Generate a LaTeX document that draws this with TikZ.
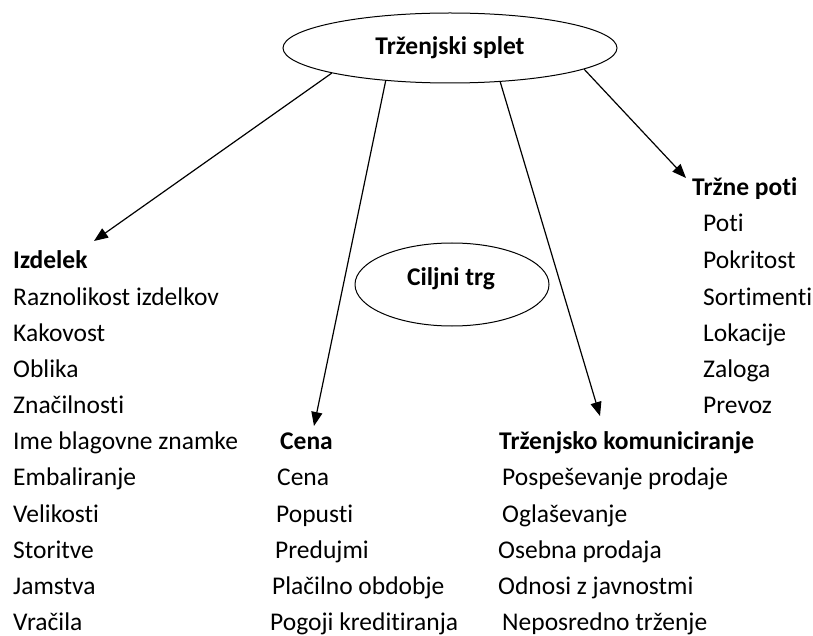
\documentclass[tikz,border=0pt]{standalone}
\usepackage{fontspec}
\setmainfont{Carlito}[Ligatures=NoCommon]
\usetikzlibrary{arrows.meta,shapes.geometric}
\begin{document}
\begin{tikzpicture}[x=1pt,y=-1pt,
  every node/.style={font=\fontsize{25.5}{30}\selectfont, inner sep=0pt},
  item/.style={anchor=base west},
  head/.style={anchor=base west, font=\fontsize{25.5}{30}\selectfont\bfseries},
  oval/.style={draw, ellipse, line width=1pt, inner sep=0pt},
  arr/.style={line width=1.2pt, -{Triangle[length=14pt,width=11pt]}}
]
\useasboundingbox (0,0) rectangle (813,636);
% ellipses
\node[oval, minimum width=334pt, minimum height=70pt, font=\fontsize{25.5}{30}\selectfont\bfseries] (ts) at (450,48) {Trženjski splet};
\node[oval, minimum width=194pt, minimum height=83pt] (ct) at (452,284.5) {};
\node[font=\fontsize{25.5}{30}\selectfont\bfseries] (ctt) at (451,279) {Ciljni trg};
% Izdelek column
\node[head] (izd) at (13,269) {Izdelek};
\node[item] (i1) at (13,305) {Raznolikost izdelkov};
\node[item] (i2) at (13,341) {Kakovost};
\node[item] (i3) at (13,377.2) {Oblika};
\node[item] (i4) at (13,413.4) {Značilnosti};
\node[item] (i5) at (13,449.6) {Ime blagovne znamke};
\node[item] (i6) at (13,485.8) {Embaliranje};
\node[item] (i7) at (13,522) {Velikosti};
\node[item] (i8) at (13,558.2) {Storitve};
\node[item] (i9) at (13,594.4) {Jamstva};
\node[item] (i10) at (13,630.4) {Vračila};
% Cena column
\node[head] (cena) at (280,449.6) {Cena};
\node[item] (c1) at (277,485.8) {Cena};
\node[item] (c2) at (276,522) {Popusti};
\node[item] (c3) at (275,558.2) {Predujmi};
\node[item] (c4) at (272,594.4) {Plačilno obdobje};
\node[item] (c5) at (270,630.4) {Pogoji kreditiranja};
% Trzenjsko komuniciranje column
\node[head] (tk) at (499,449.6) {Trženjsko komuniciranje};
\node[item] (k1) at (502,485.8) {Pospeševanje prodaje};
\node[item] (k2) at (502,522) {Oglaševanje};
\node[item] (k3) at (498,558.2) {Osebna prodaja};
\node[item] (k4) at (498,594.4) {Odnosi z javnostmi};
\node[item] (k5) at (502,630.4) {Neposredno trženje};
% Trzne poti column
\node[head] (tp) at (692,195.5) {Tržne poti};
\node[item] (p1) at (703,232) {Poti};
\node[item] (p2) at (703,268.5) {Pokritost};
\node[item] (p3) at (703,305) {Sortimenti};
\node[item] (p4) at (703,341) {Lokacije};
\node[item] (p5) at (703,377.2) {Zaloga};
\node[item] (p6) at (703,413.4) {Prevoz};
% arrow tips
\coordinate (tizd) at (94,241);
\coordinate (tcena) at (314,426);
\coordinate (ttk) at (600,416);
\coordinate (ttp) at (686,178);
\draw[arr] (ts.192.5) -- (tizd);
\draw[arr] (ts.207.7) -- (tcena);
\draw[arr] (ts.326.9) -- (ttk);
\draw[arr] (ts.351.1) -- (ttp);
\end{tikzpicture}
\end{document}
